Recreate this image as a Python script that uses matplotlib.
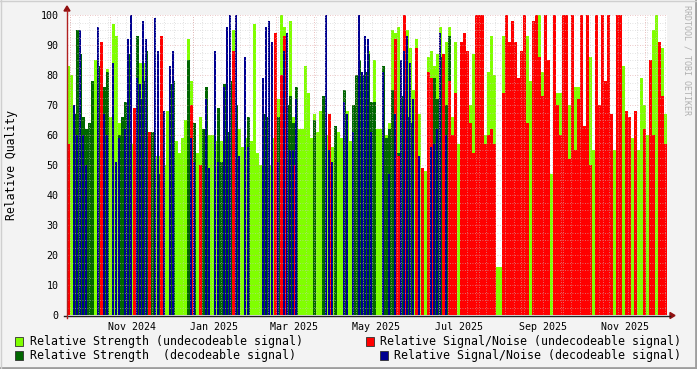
import numpy as np
import matplotlib
matplotlib.use("Agg")
import matplotlib.pyplot as plt
import matplotlib.dates as mdates
from matplotlib.patches import Rectangle, Polygon
from matplotlib.lines import Line2D
from datetime import datetime, timedelta

# ---------------- data (one value per time bin, 0 = no sample) ----------------
start_date = datetime(2024, 9, 14)
bin_days = 2.22
month_labels = ["Nov 2024", "Jan 2025", "Mar 2025", "May 2025", "Jul 2025", "Sep 2025", "Nov 2025"]
y_ticks = [0, 10, 20, 30, 40, 50, 60, 70, 80, 90, 100]

strength_undec = [
    83, 80, 53, 0, 0, 62, 60, 59, 58, 85, 0, 78, 66, 82, 66, 97, 93, 64, 58, 61,
    0, 57, 55, 0, 84, 84, 53, 53, 55, 53, 53, 86, 50, 68, 0, 0, 58, 54, 59, 65,
    92, 78, 0, 54, 66, 62, 57, 60, 60, 58, 58, 58, 0, 0, 0, 95, 0, 62, 56, 59,
    59, 58, 97, 54, 50, 52, 0, 50, 59, 63, 72, 100, 96, 0, 98, 66, 0, 62, 62, 83,
    74, 59, 67, 61, 68, 66, 60, 0, 56, 56, 61, 59, 0, 68, 58, 0, 76, 0, 0, 0,
    88, 64, 85, 62, 62, 0, 60, 64, 95, 94, 96, 0, 0, 95, 89, 75, 92, 67, 49, 48,
    86, 88, 83, 87, 96, 70, 91, 96, 66, 91, 57, 57, 0, 0, 70, 87, 82, 0, 0, 60,
    81, 93, 80, 16, 16, 93, 85, 88, 95, 78, 47, 70, 86, 93, 78, 80, 78, 100, 81, 75,
    84, 47, 70, 74, 74, 68, 65, 70, 90, 76, 76, 61, 60, 86, 86, 55, 55, 69, 69, 68,
    83, 55, 55, 83, 70, 83, 55, 59, 59, 62, 55, 79, 70, 60, 60, 95, 100, 71, 89, 67,
]
strength_dec = [
    0, 0, 67, 95, 87, 66, 62, 64, 78, 0, 83, 82, 76, 81, 0, 0, 0, 60, 66, 71,
    87, 0, 0, 93, 72, 78, 88, 0, 61, 0, 47, 74, 0, 0, 77, 78, 0, 0, 0, 0,
    85, 64, 64, 0, 0, 62, 76, 0, 0, 0, 69, 51, 77, 61, 78, 72, 70, 0, 0, 0,
    66, 0, 0, 0, 0, 67, 66, 0, 0, 66, 66, 76, 0, 70, 73, 64, 76, 0, 0, 0,
    0, 0, 65, 0, 0, 73, 0, 66, 0, 63, 0, 0, 75, 0, 0, 70, 80, 85, 80, 81,
    87, 71, 71, 0, 0, 83, 59, 62, 75, 0, 54, 73, 0, 66, 64, 0, 80, 0, 0, 0,
    0, 0, 79, 72, 86, 62, 70, 93, 0, 0, 0, 0, 0, 0, 0, 0, 0, 0, 0, 0,
    0, 0, 0, 0, 0, 0, 0, 0, 0, 0, 0, 0, 0, 0, 0, 0, 0, 0, 0, 0,
    0, 0, 0, 0, 0, 0, 0, 0, 0, 0, 0, 0, 0, 0, 0, 0, 0, 0, 0, 0,
    0, 0, 0, 0, 0, 0, 0, 0, 0, 0, 0, 0, 0, 0, 0, 0, 0, 0, 0, 0,
]
snr_undec = [
    57, 0, 0, 0, 0, 0, 0, 0, 0, 0, 0, 91, 0, 0, 0, 0, 0, 0, 0, 0,
    0, 0, 69, 0, 0, 0, 0, 61, 0, 0, 0, 93, 0, 0, 0, 0, 0, 0, 0, 0,
    0, 70, 0, 0, 50, 0, 0, 0, 0, 0, 0, 0, 0, 0, 0, 88, 0, 0, 0, 0,
    0, 0, 0, 0, 0, 0, 0, 0, 0, 94, 0, 80, 93, 0, 0, 50, 0, 0, 0, 0,
    0, 0, 0, 0, 0, 0, 0, 67, 0, 0, 0, 0, 0, 0, 0, 0, 0, 0, 0, 0,
    0, 0, 0, 0, 0, 0, 0, 0, 0, 92, 53, 0, 100, 0, 0, 0, 89, 0, 49, 0,
    81, 79, 0, 0, 0, 87, 0, 78, 60, 74, 0, 91, 94, 88, 64, 54, 100, 100, 100, 57,
    60, 62, 57, 0, 0, 74, 100, 91, 98, 91, 79, 88, 100, 64, 0, 98, 100, 86, 73, 100,
    85, 0, 100, 70, 60, 100, 100, 52, 100, 55, 72, 100, 63, 100, 50, 0, 100, 70, 100, 78,
    100, 67, 0, 100, 100, 0, 68, 66, 0, 68, 0, 0, 62, 0, 85, 60, 0, 91, 73, 57,
]
snr_dec = [
    0, 0, 70, 60, 95, 60, 50, 0, 0, 0, 96, 0, 67, 60, 0, 84, 51, 59, 0, 62,
    92, 100, 0, 79, 77, 98, 92, 0, 0, 99, 88, 0, 68, 0, 83, 88, 0, 0, 0, 0,
    0, 59, 51, 0, 0, 0, 72, 49, 0, 88, 51, 0, 76, 96, 100, 0, 100, 53, 0, 86,
    56, 0, 0, 0, 0, 79, 96, 98, 91, 0, 51, 0, 88, 94, 55, 55, 72, 0, 0, 0,
    0, 0, 0, 0, 0, 0, 100, 55, 51, 0, 0, 0, 71, 67, 0, 61, 0, 100, 81, 93,
    92, 61, 0, 0, 0, 81, 0, 47, 0, 67, 0, 85, 88, 93, 84, 72, 0, 53, 0, 0,
    0, 56, 57, 62, 94, 0, 60, 0, 0, 0, 0, 0, 0, 0, 0, 0, 0, 0, 0, 0,
    0, 0, 0, 0, 0, 0, 0, 0, 0, 0, 0, 0, 0, 0, 0, 0, 0, 0, 0, 0,
    0, 0, 0, 0, 0, 0, 0, 0, 0, 0, 0, 0, 0, 0, 0, 0, 0, 0, 0, 0,
    0, 0, 0, 0, 0, 0, 0, 0, 0, 0, 0, 0, 0, 0, 0, 0, 0, 0, 0, 0,
]

legend_labels = [
    "Relative Strength (undecodeable signal)",
    "Relative Signal/Noise (undecodeable signal)",
    "Relative Strength  (decodeable signal)",
    "Relative Signal/Noise (decodeable signal)",
]

# ---------------- styling ----------------
C_LG = "#80FF00"
C_DG = "#006600"
C_R = "#FF0000"
C_B = "#000090"
BACK = "#F3F3F3"
MONO = "DejaVu Sans Mono"

W, H = 697, 369
fig = plt.figure(figsize=(W / 100, H / 100), dpi=100, facecolor=BACK)

L, R_, T, B_ = 67, 667, 15, 315
ax = fig.add_axes([L / W, 1 - B_ / H, (R_ - L) / W, (B_ - T) / H])
ax.set_facecolor("white")

n = len(strength_undec)
t0 = mdates.date2num(start_date)
xs = t0 + np.arange(n) * bin_days
t_end = t0 + 600 / 1.351

for vals, col, wfrac in [(strength_undec, C_LG, 1.0), (strength_dec, C_DG, 1.0),
                         (snr_undec, C_R, 1.0), (snr_dec, C_B, 0.7)]:
    v = np.array(vals, dtype=float)
    m = v > 0
    ax.bar(xs[m], v[m], width=bin_days * wfrac, align="edge", color=col, linewidth=0,
           antialiased=False, zorder=2)

ax.set_xlim(t0, t_end)
ax.set_ylim(0, 100)

# grid (drawn over the data, rrdtool style)
for yv in np.arange(0, 100.1, 2.5):
    if yv % 10 == 0:
        ax.axhline(yv, color="#E0A0A0", lw=0.6, ls=(0, (1, 2)), zorder=3, alpha=0.8)
    else:
        ax.axhline(yv, color="#C8C8C8", lw=0.6, ls=(0, (1, 2)), zorder=3, alpha=0.7)
d = start_date
while mdates.date2num(d) < t_end:
    if d.weekday() == 0:
        ax.axvline(mdates.date2num(d), color="#C8C8C8", lw=0.6, ls=(0, (1, 2)), zorder=3, alpha=0.7)
    if d.day == 16:
        ax.axvline(mdates.date2num(d), color="#E0A0A0", lw=0.6, ls=(0, (1, 2)), zorder=3, alpha=0.9)
    d += timedelta(days=1)

tick_dates = [mdates.date2num(datetime.strptime("1 " + s, "%d %b %Y")) for s in month_labels]
ax.set_xticks(tick_dates)
ax.set_xticklabels(month_labels, fontfamily=MONO, fontsize=7.2)
ax.set_yticks(y_ticks)
ax.set_yticklabels([str(v) for v in y_ticks], fontfamily=MONO, fontsize=7.2)
ax.tick_params(axis="both", length=0, pad=5, colors="#000000")
ax.tick_params(axis="y", pad=6)
for s in ax.spines.values():
    s.set_visible(False)

# axes lines and arrows (figure pixel coords)
def fx(px):
    return px / W

def fy(py):
    return 1 - py / H

fig.add_artist(Line2D([fx(64), fx(670)], [fy(315.5), fy(315.5)], color="#202020", lw=1))
fig.add_artist(Line2D([fx(67), fx(67)], [fy(318), fy(10)], color="#B02020", lw=1))
fig.add_artist(Polygon([[fx(670), fy(312.5)], [fx(675), fy(315.5)], [fx(670), fy(318.5)]],
                       closed=True, color="#901010", transform=fig.transFigure))
fig.add_artist(Polygon([[fx(64), fy(11)], [fx(67), fy(6)], [fx(70), fy(11)]],
                       closed=True, color="#901010", transform=fig.transFigure))

# y label and watermark
fig.text(fx(12), fy(165), "Relative Quality", rotation=90, ha="center", va="center",
         fontfamily=MONO, fontsize=8.3, color="#000000")
fig.text(fx(687), fy(5), "RRDTOOL / TOBI OETIKER", rotation=270, ha="center", va="top",
         fontfamily=MONO, fontsize=6, color="#B0B0B0")

# legend
leg = [
    (legend_labels[0], C_LG, 15, 30, 341),
    (legend_labels[1], C_R, 366, 380, 341),
    (legend_labels[2], C_DG, 15, 30, 355),
    (legend_labels[3], C_B, 380, 394, 355),
]
for text, col, sx, tx, cy in leg:
    fig.add_artist(Rectangle((fx(sx), fy(cy + 4.5)), 8 / W, 9 / H, transform=fig.transFigure,
                             facecolor=col, edgecolor="#303030", lw=0.6))
    fig.text(fx(tx), fy(cy), text, ha="left", va="center", fontfamily=MONO, fontsize=8.35,
             color="#000000")

# 3D frame
fig.add_artist(Line2D([0, 1], [fy(368), fy(368)], color="#9E9E9E", lw=2))
fig.add_artist(Line2D([fx(696), fx(696)], [0, 1], color="#9E9E9E", lw=2))
fig.add_artist(Line2D([0, 1], [fy(0.5), fy(0.5)], color="#CFCFCF", lw=1))
fig.add_artist(Line2D([fx(0.5), fx(0.5)], [0, 1], color="#CFCFCF", lw=1))

fig.savefig("out.png", dpi=100, facecolor=BACK)
